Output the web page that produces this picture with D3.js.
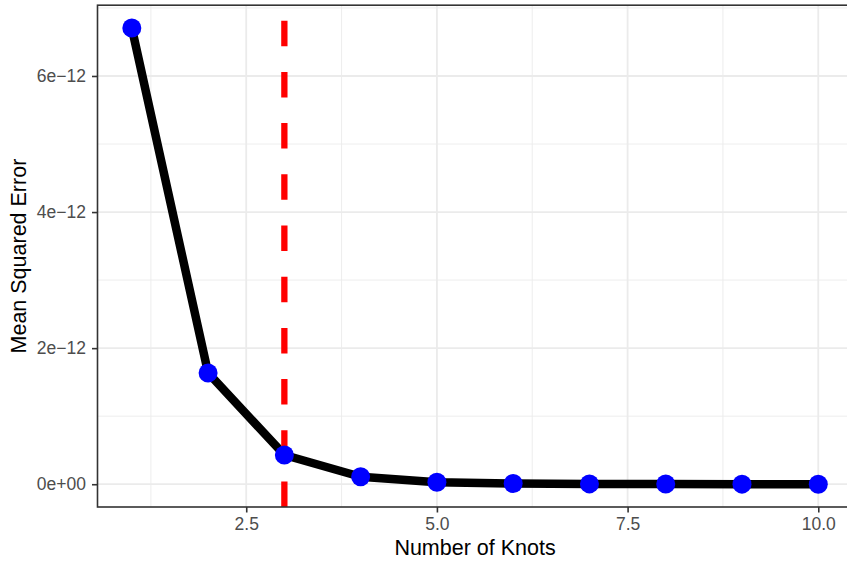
<!DOCTYPE html>
<html>
<head>
<meta charset="utf-8">
<script src="https://cdn.jsdelivr.net/npm/d3@7"></script>
<style>
  body { margin: 0; background: #fff; }
  svg { display: block; font-family: "Liberation Sans", Arial, sans-serif; }
</style>
</head>
<body>
<svg id="chart" width="847" height="561"></svg>
<script>
// knots vs mean squared error
var knots = [1, 2, 3, 4, 5, 6, 7, 8, 9, 10];
var mse = [6.705e-12, 1.636e-12, 0.43e-12, 0.11e-12, 0.03e-12, 0.01e-12, 0.005e-12, 0.002e-12, 0.001e-12, 0.0005e-12];
var chosenKnots = 3;

var xTicks = [2.5, 5.0, 7.5, 10.0];
var xTickLabels = ["2.5", "5.0", "7.5", "10.0"];
var xMinor = [1.25, 3.75, 6.25, 8.75];
var yTicks = [0, 2e-12, 4e-12, 6e-12];
var yTickLabels = ["0e+00", "2e\u221212", "4e\u221212", "6e\u221212"];
var yMinor = [1e-12, 3e-12, 5e-12, 7e-12];

(function(){
  var svg = d3.select("#chart");
  var pLeft = 97.5, pRight = 852.6, pTop = 5.2, pBottom = 507;

  // ggplot style 5% expansion
  var xr = d3.extent(knots), yr = d3.extent(mse);
  var xpad = (xr[1] - xr[0]) * 0.05, ypad = (yr[1] - yr[0]) * 0.05;

  var x = d3.scaleLinear().domain([xr[0] - xpad, xr[1] + xpad]).range([pLeft, pRight]);
  var y = d3.scaleLinear().domain([yr[0] - ypad, yr[1] + ypad]).range([pBottom, pTop]);

  var grid = svg.append("g");
  function vgrid(vals, w){
    grid.selectAll(null).data(vals).enter().append("line")
        .attr("x1", function(d){ return x(d); }).attr("x2", function(d){ return x(d); })
        .attr("y1", pTop).attr("y2", pBottom)
        .attr("stroke", "#ebebeb").attr("stroke-width", w);
  }
  function hgrid(vals, w){
    grid.selectAll(null).data(vals).enter().append("line")
        .attr("y1", function(d){ return y(d); }).attr("y2", function(d){ return y(d); })
        .attr("x1", pLeft).attr("x2", pRight)
        .attr("stroke", "#ebebeb").attr("stroke-width", w);
  }
  vgrid(xMinor, 0.9); hgrid(yMinor, 0.9);
  vgrid(xTicks, 1.8); hgrid(yTicks, 1.8);

  // data line
  var line = d3.line()
      .x(function(d, i){ return x(knots[i]); })
      .y(function(d){ return y(d); });

  svg.append("path")
      .datum(mse)
      .attr("d", line)
      .attr("fill", "none")
      .attr("stroke", "#000")
      .attr("stroke-width", 8.5)
      .attr("stroke-linejoin", "round");

  // vertical dashed marker, drawn from the bottom up
  svg.append("line")
      .attr("x1", x(chosenKnots)).attr("x2", x(chosenKnots))
      .attr("y1", pBottom).attr("y2", pTop)
      .attr("stroke", "#ff0000")
      .attr("stroke-width", 6.3)
      .attr("stroke-dasharray", "25.5 25.7");

  svg.selectAll(".pt").data(mse).enter().append("circle")
      .attr("cx", function(d, i){ return x(knots[i]); })
      .attr("cy", function(d){ return y(d); })
      .attr("r", 9.5)
      .attr("fill", "#0000ff");

  // panel border
  svg.append("rect")
      .attr("x", pLeft).attr("y", pTop)
      .attr("width", pRight - pLeft).attr("height", pBottom - pTop)
      .attr("fill", "none").attr("stroke", "#333333").attr("stroke-width", 1.6);

  // axes
  var xAxis = d3.axisBottom(x).tickValues(xTicks)
      .tickFormat(function(d, i){ return xTickLabels[i]; })
      .tickSize(5.5).tickPadding(5);
  var gx = svg.append("g").attr("transform", "translate(0," + pBottom + ")").call(xAxis);

  var yAxis = d3.axisLeft(y).tickValues(yTicks)
      .tickFormat(function(d, i){ return yTickLabels[i]; })
      .tickSize(5.5).tickPadding(6);
  var gy = svg.append("g").attr("transform", "translate(" + pLeft + ",0)").call(yAxis);

  [gx, gy].forEach(function(g){
    g.select(".domain").remove();
    g.selectAll(".tick line").attr("stroke", "#333333").attr("stroke-width", 1.6);
    g.selectAll(".tick text").attr("fill", "#4d4d4d").attr("font-size", 17.5)
      .attr("font-family", "Liberation Sans, Arial, sans-serif");
  });

  svg.append("text")
      .attr("x", (pLeft + pRight) / 2).attr("y", 554.5)
      .attr("text-anchor", "middle")
      .attr("font-size", 21.5).attr("fill", "#000")
      .text("Number of Knots");

  svg.append("text")
      .attr("transform", "translate(26," + ((pTop + pBottom) / 2) + ") rotate(-90)")
      .attr("text-anchor", "middle")
      .attr("font-size", 21.5).attr("fill", "#000")
      .text("Mean Squared Error");
})();
</script>
</body>
</html>
